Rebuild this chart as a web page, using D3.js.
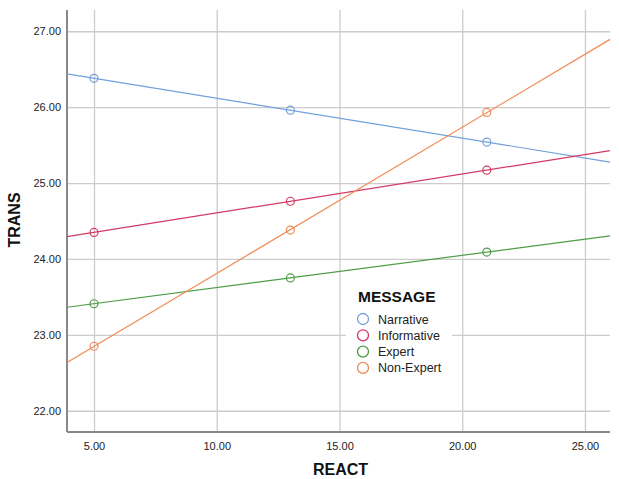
<!DOCTYPE html>
<html>
<head>
<meta charset="utf-8">
<script src="https://d3js.org/d3.v7.min.js"></script>
<style>
  body { margin: 0; background: #fff; }
  text { font-family: Arial, "Liberation Sans", sans-serif; }
</style>
</head>
<body>
<svg id="chart"></svg>
<script>
// data
const react = [5, 13, 21];
const seriesNames = ["Narrative", "Informative", "Expert", "Non-Expert"];
const narrative   = [26.38, 25.96, 25.54];
const informative = [24.35, 24.76, 25.17];
const expert      = [23.41, 23.75, 24.09];
const nonExpert   = [22.85, 24.38, 25.93];
const colors = ["#72a0db", "#d23a64", "#4c9d45", "#f08a55"];
const xTicks = [5, 10, 15, 20, 25];
const yTicks = [22, 23, 24, 25, 26, 27];

const allSeries = [narrative, informative, expert, nonExpert];

const W = 619, H = 479;
const mLeft = 67, mRight = 610, mTop = 10, mBottom = 432;

const svg = d3.select("#chart").attr("width", W).attr("height", H);

const x = d3.scaleLinear().domain([3.9, 26.02]).range([mLeft, mRight]);
const y = d3.scaleLinear().domain([21.72, 27.28]).range([mBottom, mTop]);

// gridlines
svg.append("g")
  .attr("transform", `translate(0,${mBottom})`)
  .call(d3.axisBottom(x).tickValues(xTicks).tickSize(-(mBottom - mTop)).tickFormat(""))
  .call(g => g.select(".domain").remove())
  .call(g => g.selectAll("line").attr("stroke", "#cccccc").attr("stroke-width", 1.3));
svg.append("g")
  .attr("transform", `translate(${mLeft},0)`)
  .call(d3.axisLeft(y).tickValues(yTicks).tickSize(-(mRight - mLeft)).tickFormat(""))
  .call(g => g.select(".domain").remove())
  .call(g => g.selectAll("line").attr("stroke", "#cccccc").attr("stroke-width", 1.3));

// tick labels
svg.append("g")
  .attr("transform", `translate(0,${mBottom})`)
  .call(d3.axisBottom(x).tickValues(xTicks).tickSize(0).tickPadding(10).tickFormat(d3.format(".2f")))
  .call(g => g.select(".domain").remove())
  .call(g => g.selectAll("text").attr("font-size", 11).attr("fill", "#222"));
svg.append("g")
  .attr("transform", `translate(${mLeft},0)`)
  .call(d3.axisLeft(y).tickValues(yTicks).tickSize(0).tickPadding(6).tickFormat(d3.format(".2f")))
  .call(g => g.select(".domain").remove())
  .call(g => g.selectAll("text").attr("font-size", 11).attr("fill", "#222"));

// axis frame
svg.append("line").attr("x1", mLeft).attr("x2", mLeft).attr("y1", mTop).attr("y2", mBottom)
  .attr("stroke", "#888").attr("stroke-width", 2);
svg.append("line").attr("x1", mLeft).attr("x2", mRight).attr("y1", mBottom).attr("y2", mBottom)
  .attr("stroke", "#888").attr("stroke-width", 2);

// fit lines across the full x range
const [x0, x1] = x.domain();
allSeries.forEach((vals, i) => {
  const mx = d3.mean(react), my = d3.mean(vals);
  const slope = d3.sum(react, (r, k) => (r - mx) * (vals[k] - my)) / d3.sum(react, r => (r - mx) ** 2);
  const f = v => my + slope * (v - mx);
  svg.append("line")
    .attr("x1", x(x0)).attr("y1", y(f(x0)))
    .attr("x2", x(x1)).attr("y2", y(f(x1)))
    .attr("stroke", colors[i]).attr("stroke-width", 1.2);
  svg.selectAll(null).data(vals).enter().append("circle")
    .attr("cx", (d, k) => x(react[k]))
    .attr("cy", d => y(d))
    .attr("r", 4)
    .attr("fill", "none")
    .attr("stroke", colors[i])
    .attr("stroke-width", 1.2);
});

// legend
const lg = svg.append("g");
lg.append("rect").attr("x", 346).attr("y", 276).attr("width", 106).attr("height", 102).attr("fill", "#fff");
lg.append("text").attr("x", 358).attr("y", 302).attr("font-size", 15.5).attr("font-weight", "bold")
  .attr("fill", "#111").text("MESSAGE");
seriesNames.forEach((name, i) => {
  const cy = 319 + i * 16.3;
  lg.append("circle").attr("cx", 363).attr("cy", cy).attr("r", 5.5)
    .attr("fill", "none").attr("stroke", colors[i]).attr("stroke-width", 1.3);
  lg.append("text").attr("x", 378).attr("y", cy + 4.5).attr("font-size", 12.5)
    .attr("fill", "#222").text(name);
});

// axis titles
svg.append("text").attr("x", (mLeft + mRight) / 2 + 2).attr("y", 475).attr("text-anchor", "middle")
  .attr("font-size", 16).attr("font-weight", "bold").attr("fill", "#111").text("REACT");
svg.append("text").attr("transform", "translate(20,220) rotate(-90)")
  .attr("text-anchor", "middle").attr("font-size", 16).attr("font-weight", "bold")
  .attr("fill", "#111").text("TRANS");
</script>
</body>
</html>
